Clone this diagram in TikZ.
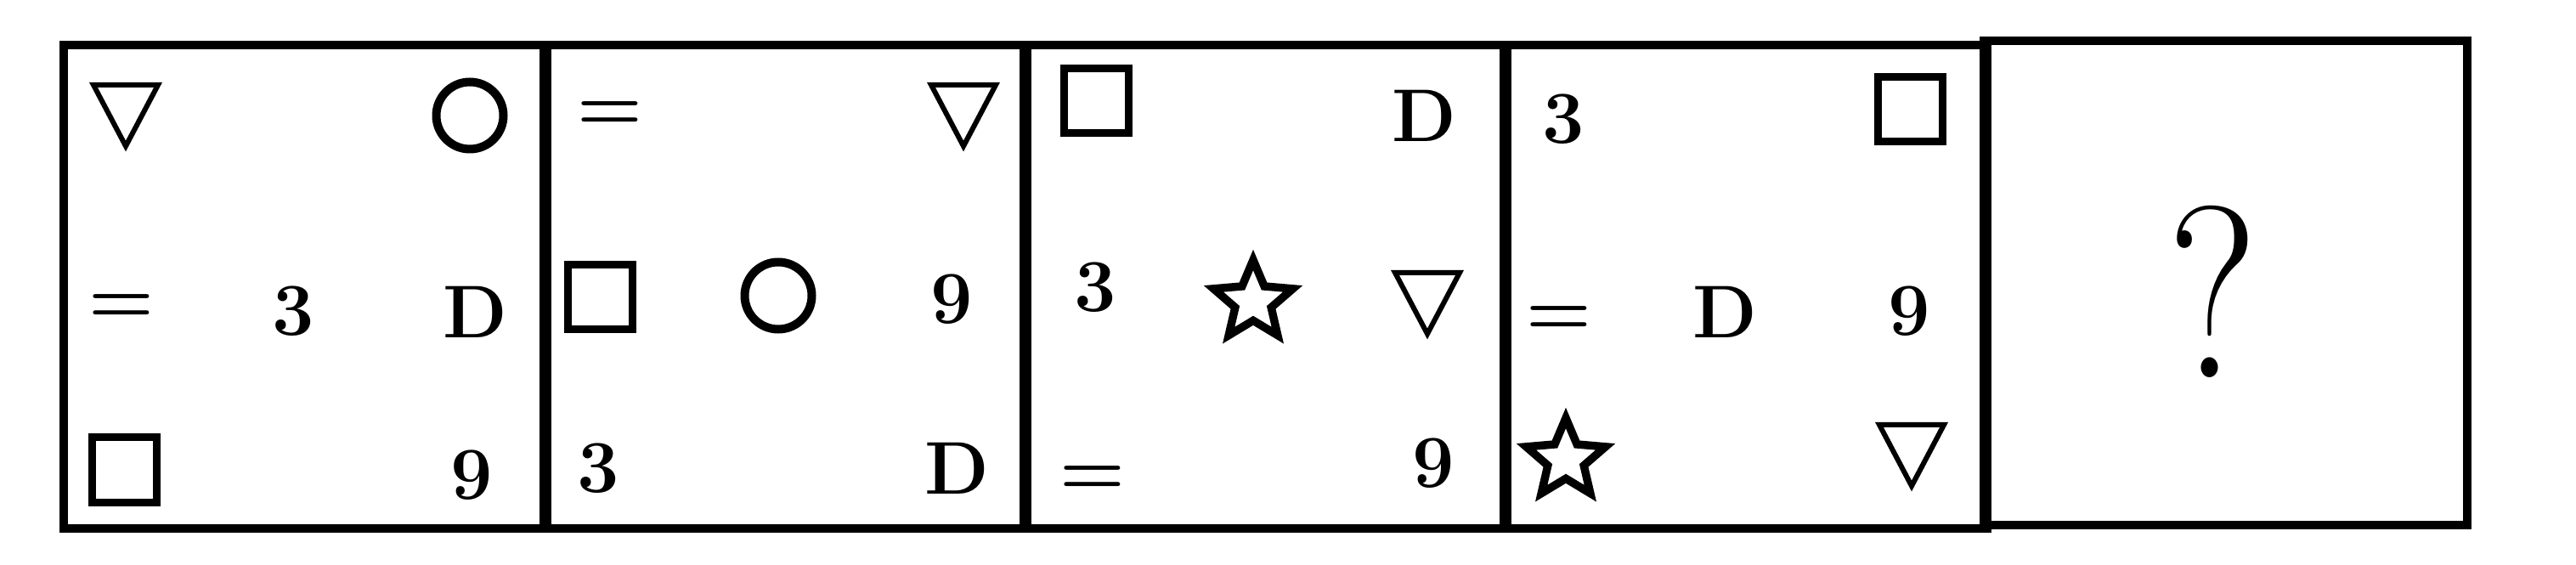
\documentclass[tikz,border=0pt]{standalone}
\usepackage{tikz}
\usepackage{graphicx}
\usetikzlibrary{positioning, shapes.geometric}
\newcommand{\symfont}{\fontsize{25}{30}\selectfont\bfseries}
\newcommand{\qfont}{\fontsize{82}{90}\selectfont}

\begin{document}
\begin{tikzpicture}[panel/.style={draw, line width=0.1cm, minimum width=5.69cm, minimum height=5.69cm, inner sep=0pt, outer sep=0pt},sym/.style={font=\symfont, inner sep=0pt},sqr/.style={draw, line width=0.09cm, minimum size=0.76cm, inner sep=0pt},circ/.style={draw, circle, line width=0.1cm, minimum size=0.79cm, inner sep=0pt},starsym/.style={draw, star, star points=5, star point ratio=2.2, line width=0.095cm, minimum size=0.98cm, inner sep=0pt},tri/.style={line width=0.06cm}]
\useasboundingbox (0,0) rectangle (30.32,6.64);
% panels
\node[panel] (p1) at (3.595,3.265) {};
\node[panel, right=-0.04cm of p1] (p2) {};
\node[panel, right=-0.04cm of p2] (p3) {};
\node[panel, right=-0.04cm of p3] (p4) {};
\node[panel, right=-0.04cm of p4, yshift=0.045cm] (p5) {};
% panel 1
\draw[tri, shift={(1.48,5.28)}] (-0.38,0.36) -- (0.38,0.36) -- (0,-0.36) -- cycle;
\node[circ] (p1circ) at (5.53,5.28) {};
\node[sym] (p1eq) at (1.43,3.00) {=};
\node[sym] (p1three) at (3.45,2.98) {3};
\node[sym] (p1D) at (5.59,2.97) {D};
\node[sqr] (p1sq) at (1.46,1.11) {};
\node[sym] (p1nine) at (5.55,1.05) {9};
% panel 2
\node[sym] (p2eq) at (7.18,5.27) {=};
\draw[tri, shift={(11.34,5.28)}] (-0.38,0.36) -- (0.38,0.36) -- (0,-0.36) -- cycle;
\node[sqr] (p2sq) at (7.06,3.14) {};
\node[circ] (p2circ) at (9.16,3.16) {};
\node[sym] (p2nine) at (11.20,3.12) {9};
\node[sym] (p2three) at (7.04,1.13) {3};
\node[sym] (p2D) at (11.26,1.13) {D};
% panel 3
\node[sqr] (p3sq) at (12.90,5.45) {};
\node[sym] (p3D) at (16.76,5.28) {D};
\node[sym] (p3three) at (12.89,3.26) {3};
\node[starsym] (p3star) at (14.75,3.09) {};
\draw[tri, shift={(16.80,3.07)}] (-0.38,0.36) -- (0.38,0.36) -- (0,-0.36) -- cycle;
\node[sym] (p3eq) at (12.86,0.98) {=};
\node[sym] (p3nine) at (16.87,1.19) {9};
% panel 4
\node[sym] (p4three) at (18.40,5.24) {3};
\node[sqr] (p4sq) at (22.48,5.35) {};
\node[sym] (p4eq) at (18.35,2.86) {=};
\node[sym] (p4D) at (20.30,2.97) {D};
\node[sym] (p4nine) at (22.47,2.98) {9};
\node[starsym] (p4star) at (18.43,1.23) {};
\draw[tri, shift={(22.50,1.28)}] (-0.38,0.36) -- (0.38,0.36) -- (0,-0.36) -- cycle;
% answer
\node[font=\qfont, inner sep=0pt] (ask) at (26.045,3.21) {\scalebox{0.85}[1]{?}};
\end{tikzpicture}
\end{document}
